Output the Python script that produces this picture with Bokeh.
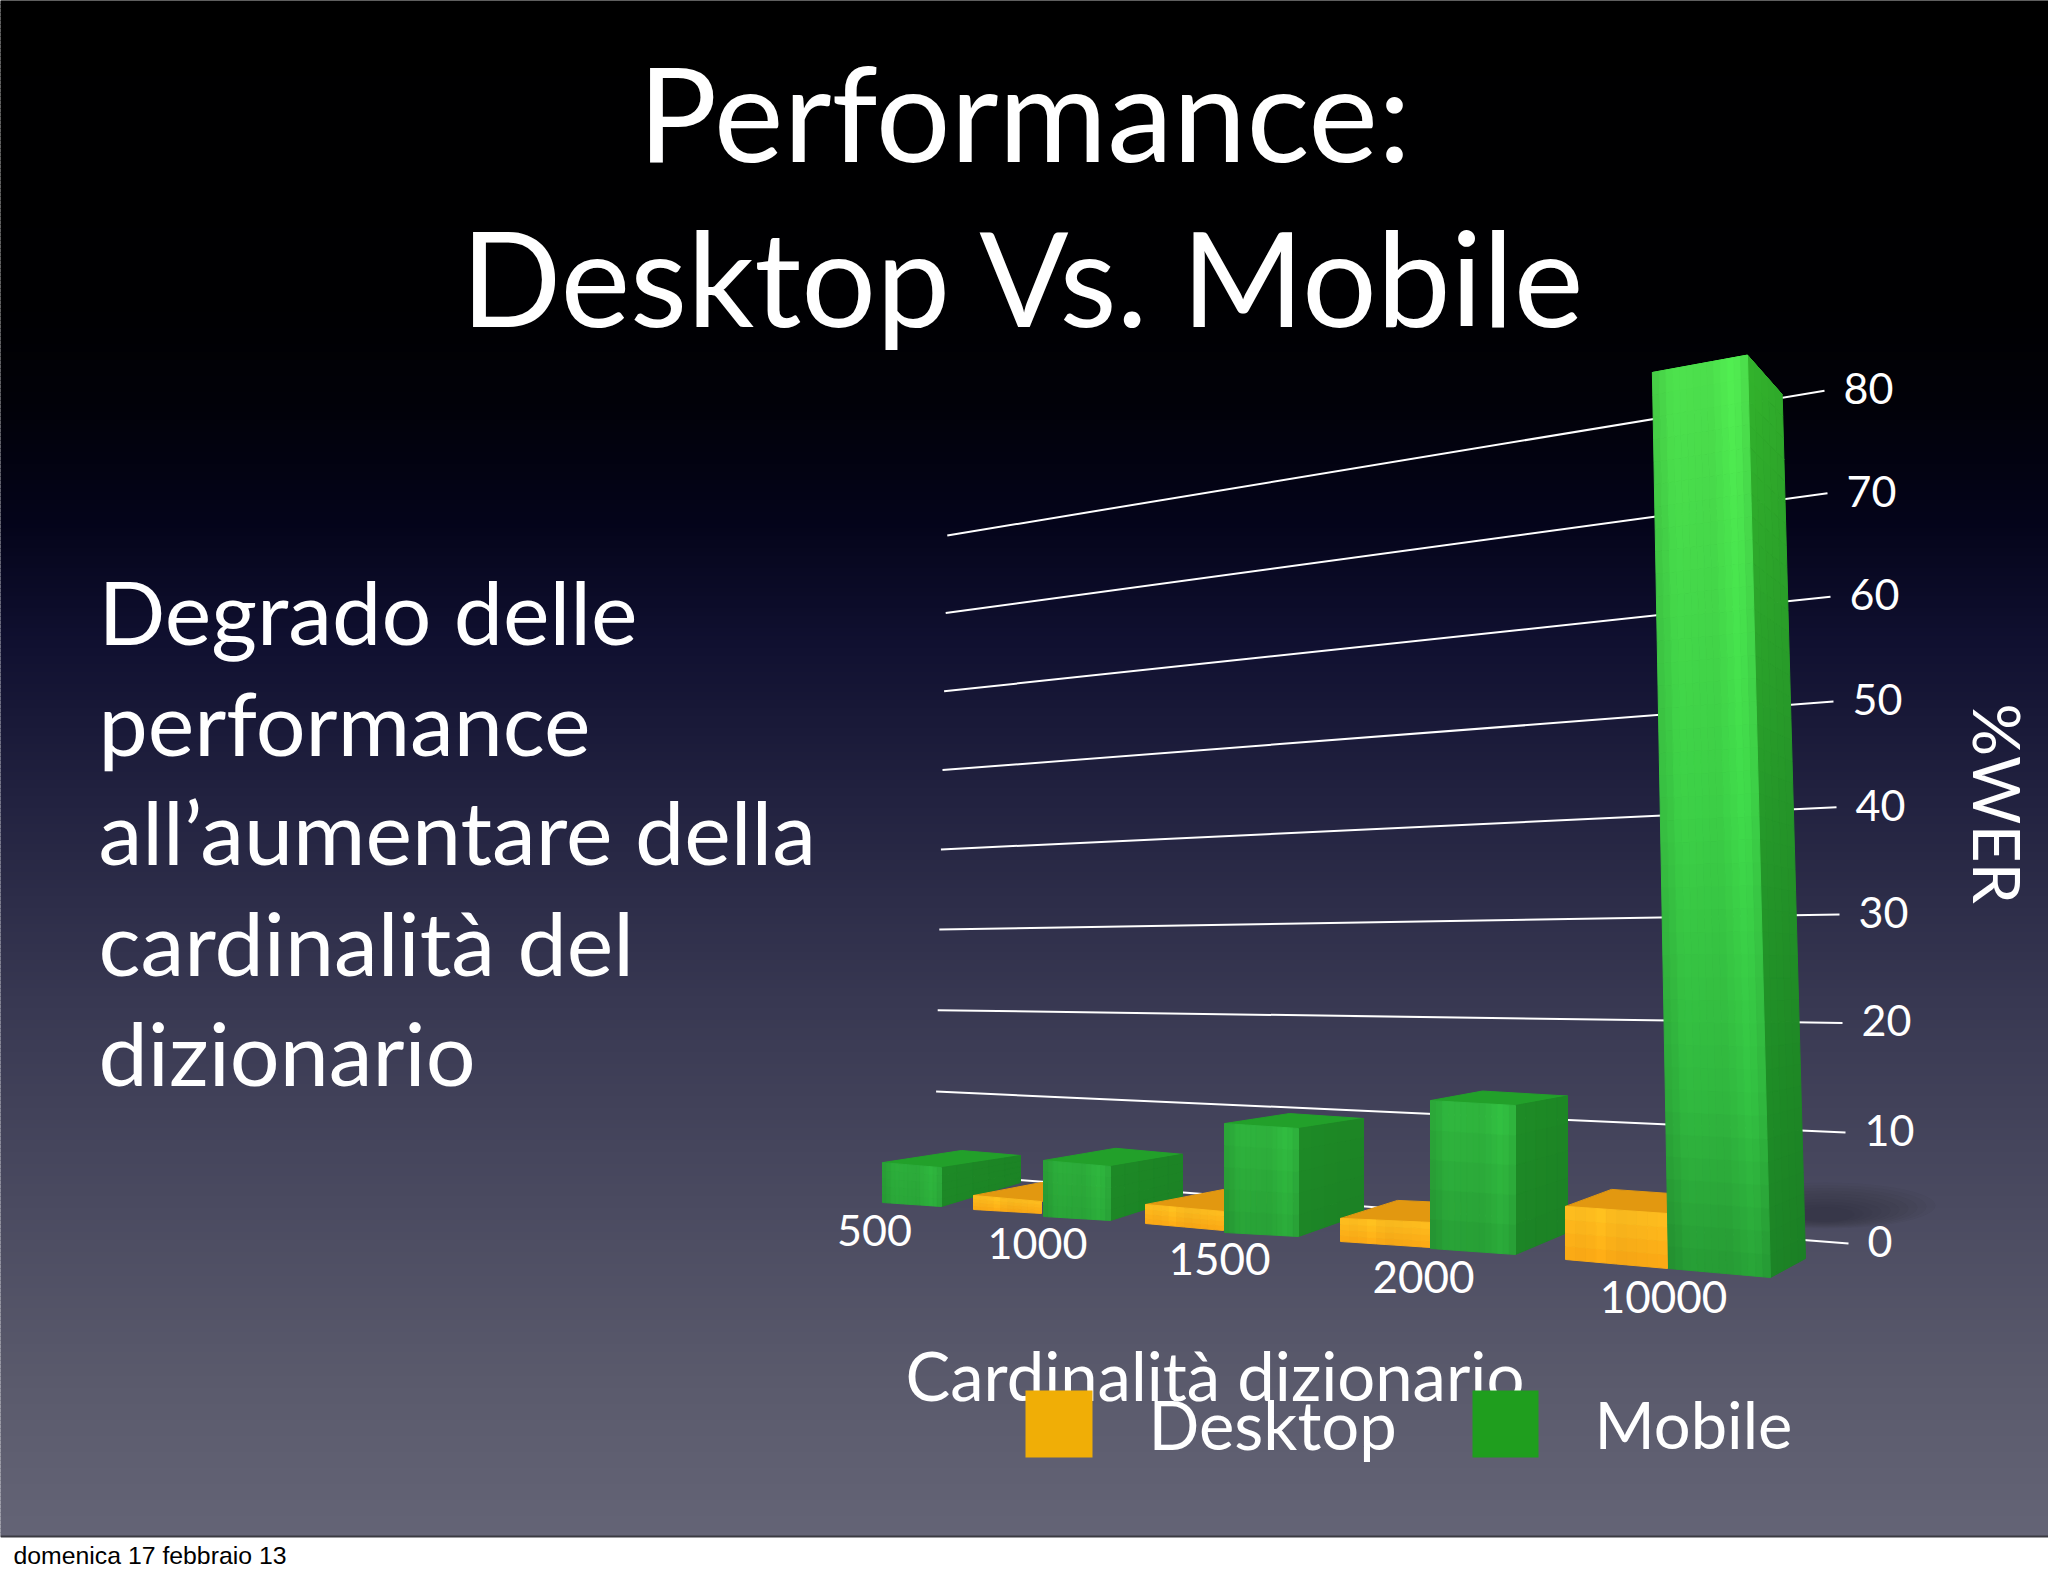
import numpy as np
from bokeh.plotting import figure
from bokeh.models import Range1d
from bokeh.core.properties import value
from bokeh.embed import file_html
from bokeh.resources import INLINE

# ---------- data ----------
categories = ["500", "1000", "1500", "2000", "10000"]
desktop = [0, 1.2, 1.7, 2.2, 4.7]
mobile = [3.5, 4.8, 9.5, 13, 80]
y_ticks = [0, 10, 20, 30, 40, 50, 60, 70, 80]
title_lines = ["Performance:", "Desktop Vs. Mobile"]
body_lines = ["Degrado delle", "performance", "all\u2019aumentare della", "cardinalit\u00e0 del", "dizionario"]
x_title = "Cardinalit\u00e0 dizionario"
y_title = "%WER"
legend_labels = ["Desktop", "Mobile"]
footer = "domenica 17 febbraio 13"

# ---------- layout of the perspective view ----------
FONT = "Lato"
W, H = 2048, 1576
SLIDE_BOTTOM = 1536
BASE = 0.37  # baseline correction, in em

m_xl = [882, 1043, 1224, 1430, 1668]
m_xc = [941, 1110, 1298, 1515, 1770]
m_xr = [1020, 1182, 1363, 1567, 1805]
m_yl = [1202, 1216, 1232, 1248, 1268]
m_yc = [1206, 1220, 1236, 1254, 1277]
m_yr = [1182, 1197, 1213, 1232, 1258]
m_sl = [11.4, 11.67, 11.47, 11.38, 11.2]
m_sc = [11.1, 11.25, 11.37, 11.46, 11.53]
m_sr = [7.7, 9.0, 10.0, 10.5, 10.8]
m_shear = [(0, 0, 0)] * 4 + [(0.018, 0.025, 0.027)]

d_xl = [800, 973, 1145, 1340, 1565]
d_xc = [870, 1041, 1223, 1430, 1667]
d_yl = [1190, 1209, 1223, 1241, 1259]
d_yc = [1194, 1213, 1230, 1247, 1268]
d_ox = [60, 68, 78, 57, 46]
d_oy = [-14, -13, -15, -18, -17]
d_sl = [11, 11.7, 11.2, 10.5, 11.3]
d_sc = [10, 10, 11.2, 11.4, 11.7]

cat_x = [874, 1037, 1219, 1423, 1663]
cat_y = [1230, 1243, 1258, 1276, 1296]
cat_size = [43, 43, 44, 44, 44]


def wall_right(v):
    return 1848 - 0.3 * v, 1243 - v * 11.16 / (1 + 0.000588 * v)


def wall_left(v):
    return 934 + 0.16 * v, 1173 - v * 8.229 / (1 + 0.000398 * v)


def lerp_stops(y, ys, cols):
    return [float(np.interp(y, ys, [c[i] for c in cols])) for i in range(3)]


def hexc(c):
    return "#%02x%02x%02x" % tuple(int(max(0, min(255, round(k)))) for k in c)


p = figure(width=W, height=H, x_range=Range1d(0, W), y_range=Range1d(H, 0),
           output_backend="svg", toolbar_location=None, min_border=0,
           background_fill_color="white", border_fill_color="white", outline_line_color=None)
p.xaxis.visible = False
p.yaxis.visible = False
p.xgrid.visible = False
p.ygrid.visible = False

# background
bg_y = [0, 300, 400, 520, 640, 800, 1000, 1200, 1380, 1536]
bg_c = [(0, 0, 0), (0, 0, 2), (1, 1, 8), (4, 4, 26), (16, 16, 48), (34, 34, 64), (56, 56, 82), (74, 74, 96), (90, 90, 108), (100, 100, 118)]
edges = np.arange(0, SLIDE_BOTTOM + 4, 4)
edges[-1] = SLIDE_BOTTOM
p.quad(left=0, right=2048, top=edges[:-1], bottom=edges[1:],
       fill_color=[hexc(lerp_stops(y, bg_y, bg_c)) for y in edges[:-1]],
       line_color=[hexc(lerp_stops(y, bg_y, bg_c)) for y in edges[:-1]], line_width=1)
p.segment(x0=[0], y0=[SLIDE_BOTTOM], x1=[2048], y1=[SLIDE_BOTTOM], line_color="#3a3a42", line_width=2)

# soft ground shadow
for k in range(10):
    p.ellipse(x=[1825], y=[1205 + k], width=[220 - 18 * k], height=[46 - 3.5 * k], angle=[0.0],
              fill_color="#14142a", fill_alpha=0.035, line_color=None)

# gridlines and ticks
for v in y_ticks:
    x0, y0 = wall_left(v)
    x1, y1 = wall_right(v)
    p.line([x0, x1], [y0, y1], line_color="white", line_width=2)

p.text(x=[wall_right(v)[0] + 19 for v in y_ticks], y=[wall_right(v)[1] - 2 for v in y_ticks],
       text=[str(v) for v in y_ticks], text_color="white", text_font=value(FONT),
       text_font_size="43px", text_align="left", text_baseline="middle")

# bars as meshes
xs, ys, cols = [], [], []
F_Y = [370, 800, 1100, 1270]
F_C = [(76, 222, 76), (60, 206, 70), (48, 182, 62), (38, 154, 52)]
S_C = [(50, 178, 44), (38, 154, 42), (30, 140, 38), (28, 132, 38)]
PROFILE_U = [0, 0.08, 0.2, 0.6, 0.85, 0.93, 1]
PROFILE_V = [0.92, 0.95, 1.02, 1.0, 1.08, 1.03, 0.98]


def face(p00, p10, p01, p11, colorfn, nu, nv):
    """p00/p10 = bottom left/right, p01/p11 = top left/right"""
    P = [np.array(q, float) for q in (p00, p10, p01, p11)]

    def at(u, t):
        return (1 - t) * ((1 - u) * P[0] + u * P[1]) + t * ((1 - u) * P[2] + u * P[3])
    for i in range(nu):
        for j in range(nv):
            u0, u1, t0, t1 = i / nu, (i + 1) / nu, j / nv, (j + 1) / nv
            q = [at(u0, t0), at(u1, t0), at(u1, t1), at(u0, t1)]
            xs.append([a[0] for a in q])
            ys.append([a[1] for a in q])
            cols.append(hexc(colorfn((u0 + u1) / 2, (t0 + t1) / 2, float(np.mean([a[1] for a in q])))))


def green_front(u, t, y):
    return np.array(lerp_stops(y, F_Y, F_C)) * float(np.interp(u, PROFILE_U, PROFILE_V))


def green_side(u, t, y):
    return np.array(lerp_stops(y, F_Y, S_C)) * float(np.interp(u, [0, 0.08, 1], [1.12, 1.0, 0.96]))


def green_top(u, t, y):
    return (34, 160, 42) if y > 600 else (60, 200, 60)


def orange_front(u, t, y):
    base = np.array([252, 168, 20]) * (1 - t) + np.array([255, 192, 32]) * t
    return base * float(np.interp(u, [0, 0.2, 0.35, 0.5, 1], [1, 0.98, 1.02, 0.97, 1.0]))


def orange_top(u, t, y):
    return (226, 152, 16)


for i in range(len(categories)):
    # desktop
    v = desktop[i]
    if v > 0:
        bl = (d_xl[i], d_yl[i])
        bc = (d_xc[i], d_yc[i])
        tl = (d_xl[i], d_yl[i] - v * d_sl[i])
        tc = (d_xc[i], d_yc[i] - v * d_sc[i])
        bkl = (tl[0] + d_ox[i], tl[1] + d_oy[i])
        bkc = (tc[0] + d_ox[i], tc[1] + d_oy[i])
        face(tl, tc, bkl, bkc, orange_top, 1, 1)
        face(bl, bc, tl, tc, orange_front, 10, 4)
    # mobile
    v = mobile[i]
    hl, hc, hr = v * m_sl[i], v * m_sc[i], v * m_sr[i]
    sl, sc, sr = m_shear[i]
    bl = (m_xl[i], m_yl[i])
    bc = (m_xc[i], m_yc[i])
    br = (m_xr[i], m_yr[i])
    tl = (m_xl[i] - sl * hl, m_yl[i] - hl)
    tc = (m_xc[i] - sc * hc, m_yc[i] - hc)
    tr = (m_xr[i] - sr * hr, m_yr[i] - hr)
    bk = (tl[0] + tr[0] - tc[0], tl[1] + tr[1] - tc[1])
    face(tl, tc, bk, tr, green_top, 1, 1)
    big = v > 40
    face(bc, br, tc, tr, green_side, 5, 40 if big else 5)
    face(bl, bc, tl, tc, green_front, 14, 40 if big else 5)

p.patches(xs, ys, fill_color=cols, line_color=cols, line_width=1)

# category labels
for name, x, y, s in zip(categories, cat_x, cat_y, cat_size):
    p.text(x=[x], y=[y], text=[name], text_color="white", text_font=value(FONT),
           text_font_size=f"{s}px", text_align="center", text_baseline="middle")

# titles
for line, y in zip(title_lines, [159, 324]):
    p.text(x=[1024], y=[y - BASE * 132], text=[line], text_color="white", text_font=value(FONT),
           text_font_size="132px", text_align="center", text_baseline="alphabetic")
for line, y in zip(body_lines, [643, 754, 863, 974, 1084]):
    p.text(x=[98], y=[y - BASE * 88], text=[line], text_color="white", text_font=value(FONT),
           text_font_size="88px", text_align="left", text_baseline="alphabetic")

p.text(x=[905], y=[1400 - BASE * 68], text=[x_title], text_color="white", text_font=value(FONT),
       text_font_size="67px", text_align="left", text_baseline="alphabetic")
p.text(x=[1974 + BASE * 66], y=[803], text=[y_title], text_color="white", text_font=value(FONT), angle=-np.pi / 2,
       text_font_size="66px", text_align="center", text_baseline="alphabetic")

# legend
p.text(x=[1148], y=[1448 - BASE * 67], text=[legend_labels[0]], text_color="white", text_font=value(FONT),
       text_font_size="67px", text_align="left", text_baseline="alphabetic")
p.text(x=[1594], y=[1448 - BASE * 65], text=[legend_labels[1]], text_color="white", text_font=value(FONT),
       text_font_size="65px", text_align="left", text_baseline="alphabetic")
p.quad(left=[1025, 1472], right=[1092, 1538], top=[1390, 1390], bottom=[1457, 1457],
       fill_color=["#f0ae06", "#1f9e1e"], line_color=None)

# footer
p.text(x=[13], y=[1564 - BASE * 25], text=[footer], text_color="black", text_font=value("Liberation Sans"),
       text_font_size="24.8px", text_align="left", text_baseline="alphabetic")

open("out.html", "w").write(file_html(p, INLINE))
